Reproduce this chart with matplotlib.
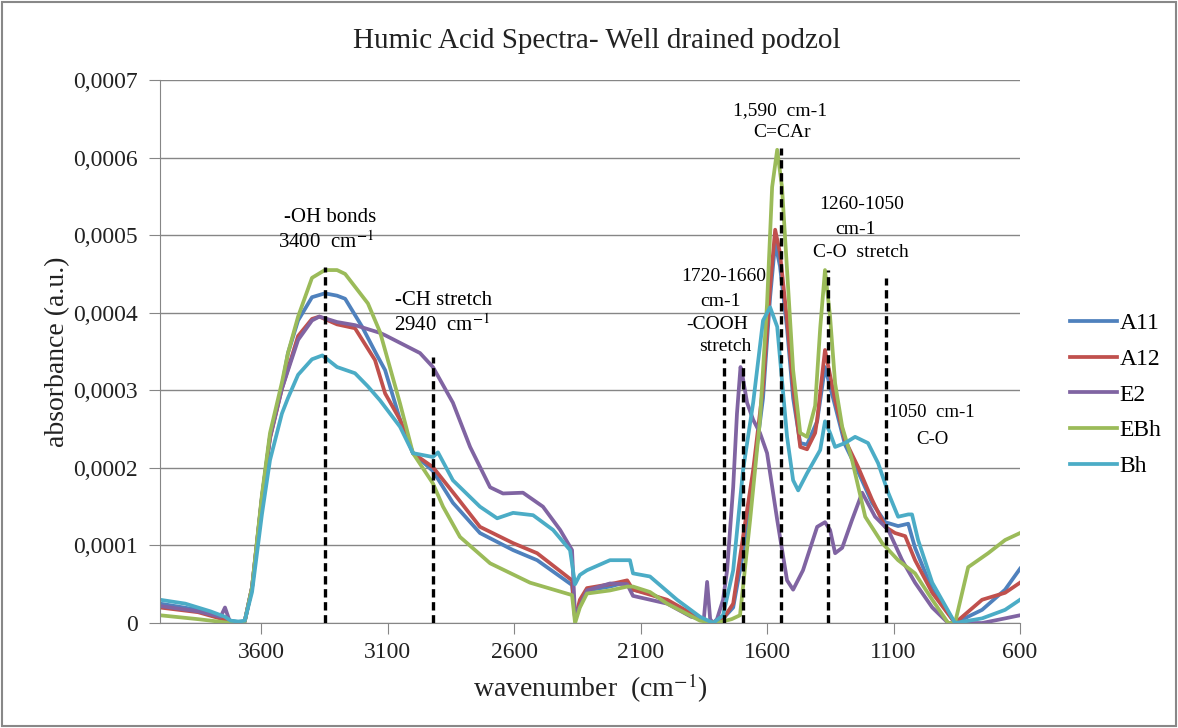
import numpy as np
import matplotlib.pyplot as plt
from matplotlib.ticker import FuncFormatter
from matplotlib.patches import Rectangle

plt.rcParams['font.family'] = ['Liberation Serif', 'DejaVu Serif']
plt.rcParams['mathtext.fontset'] = 'stix'

# spectra: wavenumber (cm-1), absorbance in units of 1e-4
a11_wn = [4000, 3850, 3720, 3690, 3665, 3636, 3597, 3565, 3518, 3494, 3454, 3399, 3348, 3300, 3268,
          3201, 3150, 3110, 3051, 3000, 2921, 2842, 2735, 2604, 2509, 2371, 2359, 2340, 2312, 2221,
          2153, 2130, 2063, 1995, 1900, 1840, 1790, 1734, 1695, 1655, 1616, 1588, 1568, 1549, 1521,
          1497, 1469, 1442, 1402, 1371, 1331, 1292, 1240, 1185, 1133, 1082, 1042, 1015, 947, 857,
          750, 659, 600]
a11_ab = [0.25, 0.17, 0.03, 0.01, 0.02, 0.46, 1.62, 2.40, 3.05, 3.48, 3.90, 4.20, 4.25, 4.22, 4.18,
          3.82, 3.50, 3.26, 2.62, 2.19, 1.96, 1.55, 1.16, 0.94, 0.81, 0.49, 0.05, 0.25, 0.42, 0.47,
          0.53, 0.43, 0.38, 0.28, 0.12, 0.02, 0.00, 0.20, 0.90, 1.90, 2.90, 4.20, 4.90, 4.60, 3.80,
          2.90, 2.32, 2.30, 2.60, 3.30, 2.80, 2.30, 1.95, 1.55, 1.30, 1.25, 1.28, 0.97, 0.43, 0.00,
          0.17, 0.43, 0.70]

a12_wn = [4000, 3850, 3720, 3690, 3665, 3636, 3597, 3565, 3518, 3454, 3399, 3370, 3300, 3229, 3150,
          3110, 3051, 3000, 2921, 2826, 2735, 2604, 2509, 2371, 2359, 2340, 2312, 2221, 2153, 2130,
          1995, 1865, 1813, 1780, 1734, 1695, 1655, 1616, 1588, 1568, 1549, 1521, 1497, 1469, 1442,
          1410, 1402, 1371, 1331, 1292, 1240, 1185, 1133, 1094, 1054, 1015, 947, 857, 750, 659, 600]
a12_ab = [0.20, 0.14, 0.02, 0.00, 0.02, 0.46, 1.60, 2.38, 3.02, 3.70, 3.92, 3.95, 3.85, 3.80, 3.39,
          2.96, 2.62, 2.19, 2.01, 1.62, 1.24, 1.03, 0.90, 0.55, 0.05, 0.30, 0.45, 0.50, 0.55, 0.43,
          0.30, 0.06, 0.00, 0.02, 0.25, 1.11, 1.97, 3.04, 4.33, 5.07, 4.77, 3.90, 3.04, 2.27, 2.24,
          2.45, 2.62, 3.52, 2.87, 2.36, 2.01, 1.59, 1.24, 1.16, 1.12, 0.81, 0.39, 0.00, 0.30, 0.39, 0.52]

e2_wn = [4000, 3850, 3760, 3743, 3725, 3690, 3665, 3636, 3597, 3565, 3518, 3454, 3399, 3370, 3300,
         3229, 3130, 3110, 2972, 2921, 2842, 2774, 2695, 2644, 2565, 2486, 2418, 2371, 2359, 2312,
         2221, 2153, 2130, 1995, 1900, 1850, 1837, 1825, 1813, 1798, 1774, 1758, 1734, 1719, 1705,
         1699, 1679, 1655, 1628, 1600, 1560, 1521, 1497, 1458, 1402, 1371, 1351, 1331, 1303, 1264,
         1224, 1173, 1121, 1066, 1015, 947, 884, 750, 659, 600]
e2_ab = [0.22, 0.15, 0.08, 0.20, 0.03, 0.00, 0.02, 0.46, 1.62, 2.40, 3.02, 3.65, 3.90, 3.95, 3.88,
         3.84, 3.74, 3.71, 3.48, 3.30, 2.84, 2.27, 1.75, 1.67, 1.68, 1.50, 1.20, 0.94, 0.08, 0.42,
         0.51, 0.50, 0.35, 0.25, 0.08, 0.05, 0.53, 0.05, 0.00, 0.05, 0.30, 0.68, 1.75, 2.70, 3.30,
         3.22, 2.84, 2.62, 2.45, 2.19, 1.33, 0.55, 0.43, 0.68, 1.24, 1.30, 1.20, 0.90, 0.97, 1.33,
         1.68, 1.37, 1.20, 0.81, 0.52, 0.20, 0.00, 0.00, 0.06, 0.10]

ebh_wn = [4000, 3850, 3720, 3690, 3665, 3636, 3597, 3565, 3518, 3494, 3454, 3399, 3348, 3300, 3268,
          3178, 3130, 3051, 3000, 2921, 2881, 2814, 2695, 2537, 2371, 2359, 2340, 2312, 2221, 2153,
          2130, 2063, 1995, 1865, 1800, 1740, 1707, 1667, 1628, 1600, 1580, 1560, 1541, 1521, 1497,
          1469, 1442, 1410, 1390, 1371, 1351, 1331, 1303, 1264, 1212, 1145, 1082, 1015, 947, 884,
          857, 805, 726, 659, 600]
ebh_ab = [0.10, 0.05, 0.00, 0.00, 0.02, 0.46, 1.65, 2.45, 3.10, 3.48, 3.95, 4.45, 4.55, 4.55, 4.50,
          4.12, 3.75, 2.83, 2.19, 1.80, 1.50, 1.11, 0.77, 0.52, 0.36, 0.00, 0.20, 0.38, 0.42, 0.47,
          0.47, 0.40, 0.25, 0.03, 0.00, 0.05, 0.10, 1.33, 2.62, 4.12, 5.62, 6.10, 5.62, 4.55, 3.26,
          2.45, 2.40, 2.80, 3.80, 4.55, 3.95, 3.09, 2.53, 2.10, 1.37, 1.03, 0.81, 0.64, 0.30, 0.00,
          0.00, 0.72, 0.90, 1.07, 1.16]

bh_wn = [4000, 3900, 3800, 3743, 3720, 3690, 3665, 3636, 3597, 3565, 3518, 3494, 3454, 3399, 3358,
         3300, 3229, 3178, 3130, 3051, 3000, 2921, 2901, 2842, 2735, 2667, 2604, 2525, 2446, 2379,
         2359, 2340, 2312, 2221, 2142, 2130, 2063, 1956, 1865, 1813, 1774, 1734, 1695, 1655, 1616,
         1588, 1560, 1541, 1521, 1497, 1477, 1442, 1390, 1371, 1351, 1331, 1292, 1252, 1201, 1161,
         1121, 1082, 1042, 1027, 1003, 947, 857, 750, 659, 600]
bh_ab = [0.30, 0.25, 0.15, 0.08, 0.03, 0.02, 0.03, 0.40, 1.40, 2.10, 2.70, 2.90, 3.20, 3.40, 3.45,
         3.30, 3.22, 3.05, 2.87, 2.53, 2.19, 2.14, 2.20, 1.84, 1.50, 1.35, 1.42, 1.39, 1.20, 0.94,
         0.50, 0.62, 0.68, 0.81, 0.81, 0.64, 0.60, 0.30, 0.08, 0.00, 0.10, 0.68, 1.97, 2.84, 3.90,
         4.07, 3.82, 3.13, 2.40, 1.84, 1.71, 1.93, 2.23, 2.60, 2.45, 2.27, 2.32, 2.40, 2.32, 2.06,
         1.68, 1.37, 1.40, 1.40, 1.07, 0.52, 0.00, 0.06, 0.17, 0.30]

labels = ['A11', 'A12', 'E2', 'EBh', 'Bh']
colors = ['#4F81BD', '#C0504D', '#8064A2', '#9BBB59', '#4BACC6']
spectra = [(a11_wn, a11_ab), (a12_wn, a12_ab), (e2_wn, e2_ab), (ebh_wn, ebh_ab), (bh_wn, bh_ab)]

# dashed band markers: wavenumber and top (x 1e-4)
mark_wn = [3348, 2921, 1770, 1695, 1545, 1359, 1129]
mark_top = [4.59, 3.43, 3.42, 3.40, 6.12, 4.55, 4.45]

# annotation texts: text, wavenumber, height (x 1e-4), size
notes = [('-OH bonds', 3328, 5.23, 15), ('3400  cm$^{-1}$', 3344, 4.91, 15),
         ('-CH stretch', 2877, 4.16, 15), ('2940  cm$^{-1}$', 2885, 3.84, 15),
         ('1720-1660', 1770, 4.47, 14), ('cm-1', 1786, 4.14, 14), ('-COOH', 1798, 3.85, 14),
         ('stretch', 1766, 3.56, 14),
         ('1,590  cm-1', 1549, 6.61, 14), ('C=CAr', 1541, 6.32, 14),
         ('1260-1050', 1228, 5.39, 14), ('cm-1', 1252, 5.07, 14), ('C-O  stretch', 1228, 4.77, 14),
         ('1050  cm-1', 947, 2.71, 13.5), ('C-O', 947, 2.36, 13.5)]

xticks = [3600, 3100, 2600, 2100, 1600, 1100, 600]

fig = plt.figure(figsize=(11.78, 7.28), dpi=100)
ax = fig.add_axes([0.1358, 0.1442, 0.7301, 0.7459])

for (wn, ab), lab, col in zip(spectra, labels, colors):
    ax.plot(wn, np.array(ab) * 1e-4, color=col, lw=2.7, label=lab, solid_joinstyle='round')

for w, t in zip(mark_wn, mark_top):
    ax.plot([w, w], [0, t * 1e-4], color='black', lw=2.4, ls=(0, (2.5, 1.4)), zorder=5)

for txt, w, y, fs in notes:
    ax.text(w, y * 1e-4, txt, ha='center', va='center', fontsize=fs, zorder=6)

ax.set_xlim(4000, 600)
ax.set_ylim(0, 0.0007)
ax.set_xticks(xticks)
ax.set_yticks(np.arange(0, 0.00071, 0.0001))
ax.yaxis.set_major_formatter(FuncFormatter(lambda v, p: '0' if v < 1e-9 else ('%.4f' % v).replace('.', ',')))
ax.yaxis.grid(True, color='#868686', lw=1)
ax.set_axisbelow(True)
for s in ['top', 'right']:
    ax.spines[s].set_visible(False)
for s in ['left', 'bottom']:
    ax.spines[s].set_color('#868686')
ax.tick_params(axis='both', colors='#868686', length=8, labelcolor='#222222', labelsize=17)
ax.tick_params(axis='y', pad=8)
ax.tick_params(axis='x', pad=6)

fig.text(0.507, 0.944, 'Humic Acid Spectra- Well drained podzol', fontsize=21, color='#222222',
         ha='center', va='center')
ax.set_xlabel('wavenumber  (cm$^{-1}$)', fontsize=20, color='#222222', labelpad=6)
ax.set_ylabel('absorbance (a.u.)', fontsize=20, color='#222222', labelpad=2)

ax.legend(loc='center left', bbox_to_anchor=(1.058, 0.42), frameon=False, fontsize=17,
          handlelength=2.0, handletextpad=0.1, labelspacing=0.6, borderpad=0, borderaxespad=0)

fig.patches.append(Rectangle((0.002, 0.003), 0.996, 0.994, transform=fig.transFigure,
                             fill=False, edgecolor='#888888', lw=1.5))

fig.savefig('out.png', dpi=100)
